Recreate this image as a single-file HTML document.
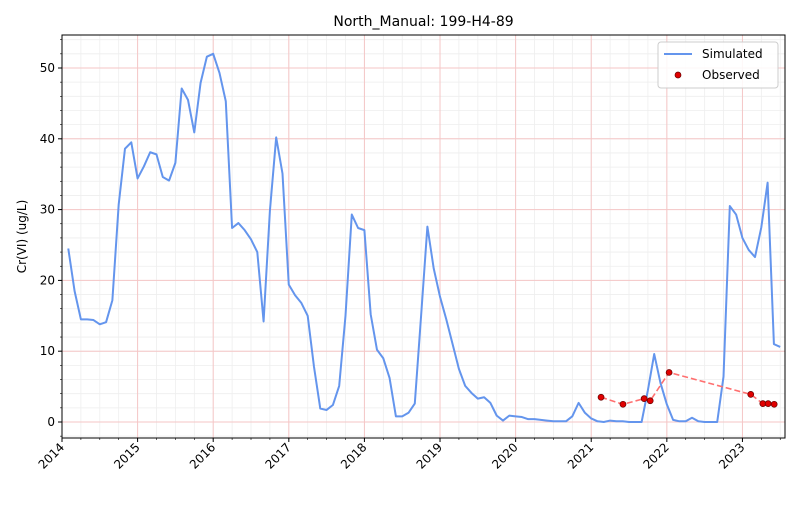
<!DOCTYPE html>
<html><head><meta charset="utf-8"><style>
body{margin:0;background:#fff;font-family:"Liberation Sans","DejaVu Sans",sans-serif;}
svg text{font-family:"DejaVu Sans","Liberation Sans",sans-serif;}
</style></head><body>
<svg id="chart" width="800" height="500" xmlns="http://www.w3.org/2000/svg"></svg>
<script>
const simStart = 2014.083;
const simValues = [24.5,18.5,14.5,14.5,14.4,13.8,14.1,17.2,30.7,38.6,39.5,34.4,36.1,38.1,37.8,34.6,34.1,36.6,47.1,45.5,40.9,47.9,51.6,52.0,49.3,45.3,27.4,28.1,27.1,25.8,24.0,14.2,29.8,40.2,35.1,19.4,17.9,16.8,15.0,7.8,1.9,1.7,2.4,5.1,15.0,29.3,27.4,27.1,15.2,10.2,9.0,6.2,0.8,0.8,1.3,2.6,15.0,27.6,21.7,17.7,14.5,11.0,7.5,5.1,4.1,3.3,3.5,2.7,0.9,0.2,0.9,0.8,0.7,0.4,0.4,0.3,0.2,0.1,0.1,0.1,0.8,2.7,1.3,0.5,0.1,0.0,0.2,0.1,0.1,0.0,0.0,0.0,4.5,9.6,5.5,2.5,0.3,0.1,0.1,0.6,0.1,0.0,0.0,0.0,6.4,30.5,29.3,26.0,24.3,23.3,27.5,33.8,11.0,10.6];
const obsDates = [2021.13,2021.42,2021.70,2021.78,2022.03,2023.11,2023.27,2023.34,2023.42];
const obsValues = [3.5,2.5,3.3,3.0,7.0,3.9,2.6,2.6,2.5];
const xTickLabels = ["2014","2015","2016","2017","2018","2019","2020","2021","2022","2023"];
const yTickLabels = ["0","10","20","30","40","50"];

const NS="http://www.w3.org/2000/svg", svg=document.getElementById('chart');
const L=62,R=785,T=35,B=438, X0=2014.0,X1=2023.563, Y0=-2.26,Y1=54.66;
const xs=v=>L+(v-X0)/(X1-X0)*(R-L), ys=v=>B-(v-Y0)/(Y1-Y0)*(B-T);
function mk(tag,attrs,parent){const e=document.createElementNS(NS,tag);for(const k in attrs)e.setAttribute(k,attrs[k]);(parent||svg).appendChild(e);return e;}
const grid=mk('g',{});


// minor grid
for(let q=X0;q<=X1;q+=0.25){const x=xs(q);mk('line',{x1:x,x2:x,y1:T,y2:B,stroke:'#eee','stroke-width':0.8},grid);}
for(let v=-2;v<=54;v+=2){const y=ys(v);mk('line',{x1:L,x2:R,y1:y,y2:y,stroke:'#eee','stroke-width':0.8},grid);}
// major grid
xTickLabels.forEach(t=>{const x=xs(+t);mk('line',{x1:x,x2:x,y1:T,y2:B,stroke:'#f5c6c6','stroke-width':1},grid);});
yTickLabels.forEach(t=>{const y=ys(+t);mk('line',{x1:L,x2:R,y1:y,y2:y,stroke:'#f5c6c6','stroke-width':1},grid);});
// simulated line
const pts=simValues.map((v,i)=>xs(simStart+i/12)+','+ys(v)).join(' ');
const sim=mk('polyline',{points:pts,fill:'none',stroke:'#6495ed','stroke-width':2,'stroke-linejoin':'round'});


const op=obsDates.map((d,i)=>xs(d)+','+ys(obsValues[i])).join(' ');
const ol=mk('polyline',{points:op,fill:'none',stroke:'#ff7070','stroke-width':1.6,'stroke-dasharray':'6,3'});


obsDates.forEach((d,i)=>{const c=mk('circle',{cx:xs(d),cy:ys(obsValues[i]),r:3,fill:'#e00000',stroke:'#600',"stroke-width":0.7});

});
// axes frame
mk('rect',{x:L,y:T,width:R-L,height:B-T,fill:'none',stroke:'#000','stroke-width':1});
// ticks
for(let q=X0;q<=X1;q+=0.25){mk('line',{x1:xs(q),x2:xs(q),y1:B,y2:B+2,stroke:'#000','stroke-width':0.6});}
for(let v=-2;v<=54;v+=2){mk('line',{x1:L-2,x2:L,y1:ys(v),y2:ys(v),stroke:'#000','stroke-width':0.6});}
xTickLabels.forEach(t=>{const x=xs(+t);mk('line',{x1:x,x2:x,y1:B,y2:B+4,stroke:'#000'});
const tx=mk('text',{x:x+3,y:B+10,'font-size':12,'text-anchor':'end',transform:`rotate(-45 ${x+3} ${B+10})`});tx.textContent=t;

});
yTickLabels.forEach(t=>{const y=ys(+t);mk('line',{x1:L-4,x2:L,y1:y,y2:y,stroke:'#000'});
const tx=mk('text',{x:L-7,y:y+4,'font-size':12,'text-anchor':'end'});tx.textContent=t;

});
const yt=mk('text',{x:26,y:(T+B)/2,'font-size':12,'text-anchor':'middle',transform:`rotate(-90 26 ${(T+B)/2})`});yt.textContent='Cr(VI) (ug/L)';


const ti=mk('text',{x:(L+R)/2,y:26,'font-size':14,'text-anchor':'middle'});ti.textContent='North_Manual: 199-H4-89';


// legend
const lg=mk('g',{});


mk('rect',{x:658,y:42,width:120,height:46,rx:3,fill:'#fff','fill-opacity':0.85,stroke:'#ccc'},lg);
mk('line',{x1:664,x2:692,y1:54,y2:54,stroke:'#6495ed','stroke-width':2},lg);
const t1=mk('text',{x:702,y:58,'font-size':12},lg);t1.textContent='Simulated';
mk('circle',{cx:678,cy:75,r:3,fill:'#e00000',stroke:'#600','stroke-width':0.7},lg);
const t2=mk('text',{x:702,y:79,'font-size':12},lg);t2.textContent='Observed';
</script>
</body></html>
